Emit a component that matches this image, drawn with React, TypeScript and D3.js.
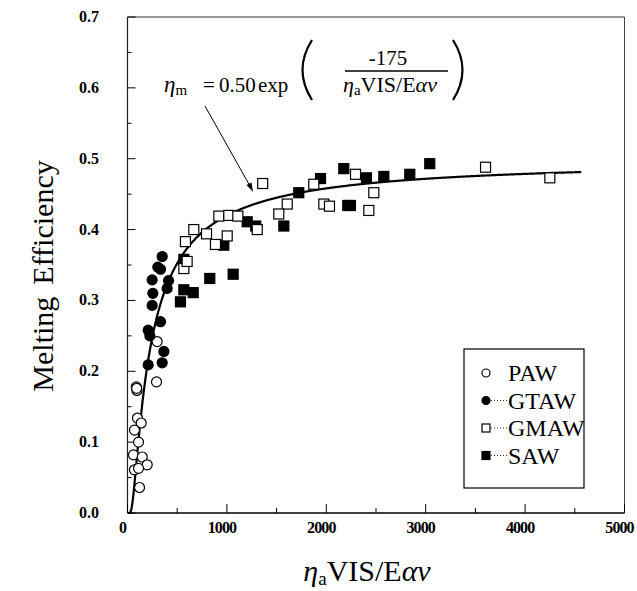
import React from "react";
import * as d3 from "d3";

const xTicks = [0, 1000, 2000, 3000, 4000, 5000];
const yTicks = [0.0, 0.1, 0.2, 0.3, 0.4, 0.5, 0.6, 0.7];
const xMinor = [500, 1500, 2500, 3500, 4500];
const yMinor = [0.05, 0.15, 0.25, 0.35, 0.45, 0.55, 0.65];

// PAW (open circles)
const pawX = [298, 292, 88, 95, 92, 100, 138, 70, 111, 60, 148, 198, 70, 111, 121];
const pawY = [0.242, 0.185, 0.178, 0.173, 0.176, 0.134, 0.127, 0.117, 0.100, 0.082, 0.079, 0.068, 0.061, 0.063, 0.036];

// GTAW (filled circles)
const gtawX = [349, 305, 332, 248, 413, 399, 255, 248, 332, 208, 225, 366, 349, 208];
const gtawY = [0.362, 0.347, 0.344, 0.329, 0.328, 0.317, 0.310, 0.293, 0.270, 0.258, 0.250, 0.228, 0.212, 0.209];

// GMAW (open squares)
const gmawX = [1607, 1522, 1975, 2032, 2428, 919, 1019, 1110, 1305, 667, 583, 795, 885, 1003, 567, 1360, 1874, 2294, 2478, 3602, 4249, 600];
const gmawY = [0.436, 0.422, 0.436, 0.433, 0.427, 0.419, 0.420, 0.419, 0.400, 0.400, 0.383, 0.394, 0.379, 0.391, 0.345, 0.465, 0.464, 0.478, 0.452, 0.488, 0.473, 0.355];

// SAW (filled squares)
const sawX = [1573, 2216, 1204, 969, 567, 828, 1063, 567, 661, 533, 1723, 1942, 2176, 2404, 2579, 2840, 3041, 2243, 1290];
const sawY = [0.405, 0.434, 0.411, 0.378, 0.358, 0.331, 0.337, 0.315, 0.311, 0.298, 0.452, 0.472, 0.486, 0.473, 0.475, 0.478, 0.493, 0.434, 0.405];

// fitted model shown on the chart: eta_m = A * exp(B / x)
const fitA = 0.5;
const fitB = -175;
const fitXMax = 4570;

const serif = "Liberation Serif";

export default function App() {
  const x = d3.scaleLinear().domain([0, 5000]).range([127.5, 624.5]);
  const y = d3.scaleLinear().domain([0, 0.7]).range([513, 17]);

  const fitXs = d3.range(5, fitXMax, 5);
  const fitLine = d3
    .line<number>()
    .x((d) => x(d))
    .y((d) => y(fitA * Math.exp(fitB / d)));

  const r = 5;
  const s = 10;

  const circle = (cx: number, cy: number, filled: boolean, key: string, rr = r) => (
    <circle key={key} cx={cx} cy={cy} r={rr} fill={filled ? "#000" : "#fff"} stroke="#000" strokeWidth={1.2} />
  );
  const square = (cx: number, cy: number, filled: boolean, key: string, ss = s) => (
    <rect key={key} x={cx - ss / 2} y={cy - ss / 2} width={ss} height={ss} fill={filled ? "#000" : "#fff"} stroke="#000" strokeWidth={1.2} />
  );

  const legendItems = [
    { label: "PAW", kind: "c", filled: false },
    { label: "GTAW", kind: "c", filled: true },
    { label: "GMAW", kind: "s", filled: false },
    { label: "SAW", kind: "s", filled: true },
  ];

  const ts = { fontFamily: serif };

  return (
    <div style={{ position: "absolute", left: 0, top: 0 }}>
      <svg width={637} height={591} style={{ display: "block", background: "#fff", fontFamily: serif }}>
        {/* frame */}
        <line x1={x(0)} x2={x(5000)} y1={y(0.7)} y2={y(0.7)} stroke="#333" strokeWidth={1} />
        <line x1={x(5000)} x2={x(5000)} y1={y(0.7)} y2={y(0)} stroke="#444" strokeWidth={1} />
        <line x1={x(0)} x2={x(5000)} y1={y(0)} y2={y(0)} stroke="#000" strokeWidth={1.6} />
        <line x1={x(0)} x2={x(0)} y1={y(0.7)} y2={y(0)} stroke="#222" strokeWidth={1.2} />

        {/* x ticks */}
        {xTicks.map((t) => (
          <g key={"xt" + t}>
            <line x1={x(t)} x2={x(t)} y1={y(0)} y2={y(0) - 9} stroke="#000" strokeWidth={1} />
            <text x={x(t) - 5} y={533} textAnchor="middle" style={ts} fontWeight="bold" fontSize={16} letterSpacing={-0.9}>
              {t}
            </text>
          </g>
        ))}
        {xMinor.map((t) => (
          <line key={"xm" + t} x1={x(t)} x2={x(t)} y1={y(0)} y2={y(0) - 5} stroke="#000" strokeWidth={1} />
        ))}

        {/* y ticks */}
        {yTicks.map((t) => (
          <g key={"yt" + t}>
            <line x1={x(0)} x2={x(0) + 8} y1={y(t)} y2={y(t)} stroke="#000" strokeWidth={1} />
            <text x={99} y={y(t) + 5} textAnchor="end" style={ts} fontWeight="bold" fontSize={16}>
              {t.toFixed(1)}
            </text>
          </g>
        ))}
        {yMinor.map((t) => (
          <line key={"ym" + t} x1={x(0)} x2={x(0) + 4} y1={y(t)} y2={y(t)} stroke="#000" strokeWidth={1} />
        ))}

        {/* axis titles */}
        <text transform="translate(53,276) rotate(-90)" textAnchor="middle" style={ts} fontSize={30}>
          <tspan>Melting</tspan>
          <tspan dx={12}>Efficiency</tspan>
        </text>
        <text x={367} y={581} textAnchor="middle" style={ts} fontSize={30}>
          <tspan fontStyle="italic">η</tspan>
          <tspan fontSize={19} dy={4}>a</tspan>
          <tspan dy={-4}>VIS/E</tspan>
          <tspan fontStyle="italic">αν</tspan>
        </text>

        {/* fit curve */}
        <path d={fitLine(fitXs) || ""} fill="none" stroke="#000" strokeWidth={2.2} />

        {/* data */}
        {pawX.map((v, i) => circle(x(v), y(pawY[i]), false, "p" + i))}
        {gtawX.map((v, i) => circle(x(v), y(gtawY[i]), true, "g" + i))}
        {sawX.map((v, i) => square(x(v), y(sawY[i]), true, "s" + i))}
        {gmawX.map((v, i) => square(x(v), y(gmawY[i]), false, "m" + i))}

        {/* formula */}
        <g fill="#000">
          <text x={164} y={92} fontSize={23} style={ts}>
            <tspan fontStyle="italic">η</tspan>
            <tspan fontSize={15} dy={3}>m</tspan>
          </text>
          <text x={203} y={92} fontSize={21} style={ts}>=</text>
          <text x={219} y={92} fontSize={21} style={ts}>0.50</text>
          <text x={258} y={92} fontSize={21} style={ts}>exp</text>
          <path d="M312,40 Q293,70 312,100" fill="none" stroke="#000" strokeWidth={2.2} />
          <text x={388} y={65} fontSize={21} textAnchor="middle" style={ts}>-175</text>
          <line x1={345} x2={448} y1={71} y2={71} stroke="#000" strokeWidth={1.3} />
          <text x={343} y={92} fontSize={22} style={ts}>
            <tspan fontStyle="italic">η</tspan>
            <tspan fontSize={15} dy={3}>a</tspan>
            <tspan dy={-3}>VIS/E</tspan>
            <tspan fontStyle="italic">αν</tspan>
          </text>
          <path d="M453,40 Q472,70 453,100" fill="none" stroke="#000" strokeWidth={2.2} />
        </g>

        {/* arrow */}
        <line x1={205} y1={106} x2={250} y2={186} stroke="#000" strokeWidth={1} />
        <path d="M253,192 L246.5,185 L251.5,182.5 Z" fill="#000" />

        {/* legend */}
        <rect x={464} y={349} width={120} height={139} fill="#fff" stroke="#000" strokeWidth={1.2} />
        {legendItems.map((it, i) => {
          const cy = 373 + i * 27.5;
          return (
            <g key={"l" + i}>
              {it.kind === "c" ? circle(486, cy, it.filled, "lm" + i, 4) : square(486, cy, it.filled, "lm" + i, 8)}
              {i > 0 && <line x1={491} x2={507} y1={cy} y2={cy} stroke="#000" strokeWidth={0.8} strokeDasharray="1,2" />}
              <text x={508} y={cy + 8} style={ts} fontSize={24}>
                {it.label}
              </text>
            </g>
          );
        })}
      </svg>
    </div>
  );
}
